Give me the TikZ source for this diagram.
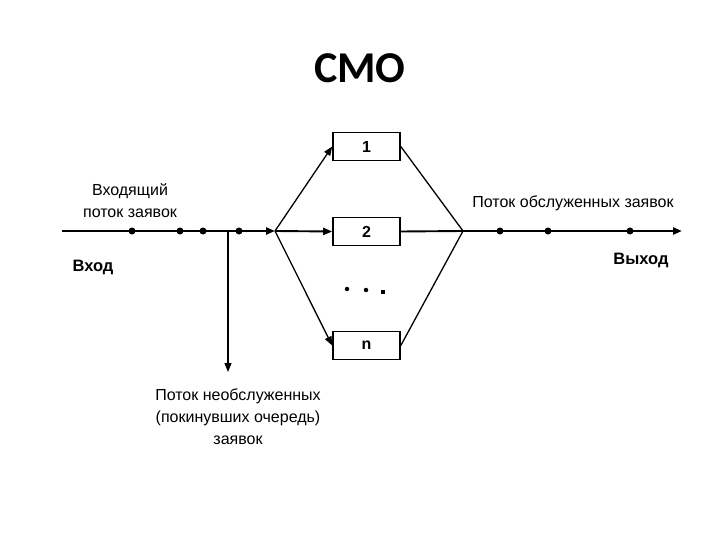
\documentclass[tikz,border=0pt]{standalone}
\usepackage{fontspec}
\setmainfont{Liberation Sans}
\newfontfamily\titlefont{Carlito}
\usetikzlibrary{arrows.meta}
\begin{document}
\begin{tikzpicture}[x=1pt,y=-1pt,
  lbl/.style={font=\fontsize{16}{22}\selectfont, inner sep=0pt, align=center},
  blbl/.style={font=\fontsize{16.5}{18}\selectfont\bfseries, inner sep=0pt},
  chan/.style={draw, line width=1.6pt, minimum width=67pt, minimum height=28pt, inner sep=0pt, font=\fontsize{16}{18}\selectfont\bfseries},
  thickln/.style={line width=2.6pt},
  midln/.style={line width=1.9pt},
  thinln/.style={line width=1.3pt},
  tip/.style={-{Triangle[length=9pt,width=7pt]}},
  dotm/.style={circle, fill, inner sep=0pt, minimum size=7pt}]
\useasboundingbox (0,0) rectangle (720,540);
\node[font=\fontsize{44}{46}\selectfont\titlefont\bfseries] (title) at (360,68) {СМО};
% connectors
\coordinate (in) at (62,231);
\coordinate (split) at (275,231);
\coordinate (merge) at (463,231);
\coordinate (out) at (682,231);
\coordinate (drop) at (228,231);
\coordinate (dropend) at (228,372);
\node[chan] (c1) at (366.5,146.5) {1};
\node[chan] (c2) at (366.5,231.5) {2};
\node[chan] (cn) at (366.5,345.5) {n};
\draw[thickln, tip] (in) -- (split);
\draw[thinln, tip] (drop) -- (dropend);
\draw[thinln, tip] (split) -- (c1.west);
\draw[midln, tip] (split) -- (c2.west);
\draw[thinln, tip] (split) -- (cn.west);
\draw[thinln] (c1.east) -- (merge);
\draw[midln] (c2.east) -- (merge);
\draw[thinln] (cn.east) -- (merge);
\draw[thickln, tip] (merge) -- (out);
\foreach \x/\n in {132/a,180/b,203/c,239/d} \node[dotm] (in\n) at (\x,231) {};
\foreach \x/\n in {500/a,548/b,630/c} \node[dotm] (out\n) at (\x,231) {};
\node[circle, fill, inner sep=0pt, minimum size=4.5pt] (e1) at (347,289) {};
\node[circle, fill, inner sep=0pt, minimum size=4.5pt] (e2) at (366,290) {};
\node[rectangle, fill, inner sep=0pt, minimum size=4.5pt] (e3) at (383,292) {};
% labels
\node[lbl] (l1) at (130,201) {Входящий\\поток заявок};
\node[blbl] (vhod) at (93,267) {Вход};
\node[lbl] (l2) at (573,203) {Поток обслуженных заявок};
\node[blbl] (vyhod) at (641,260) {Выход};
\node[lbl] (l3) at (238,417) {Поток необслуженных\\(покинувших очередь)\\заявок};
\end{tikzpicture}
\end{document}
